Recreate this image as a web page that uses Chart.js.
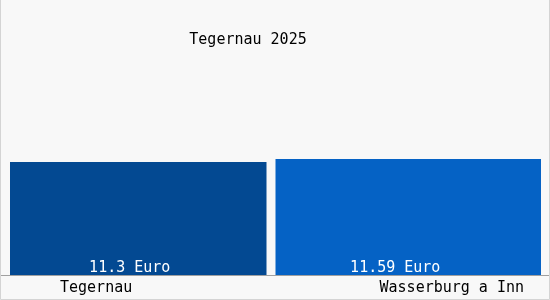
<!DOCTYPE html>
<html>
<head>
<meta charset="utf-8">
<script src="https://cdn.jsdelivr.net/npm/chart.js@4/dist/chart.umd.min.js"></script>
<style>
  html, body { margin: 0; padding: 0; background: #f8f8f8; }
  #wrap { width: 550px; height: 300px; }
</style>
</head>
<body>
<div id="wrap"><canvas id="c" width="550" height="300"></canvas></div>
<script>
const chartTitle = 'Tegernau 2025';
const categories = ['Tegernau', 'Wasserburg a Inn'];
const values = [11.3, 11.59];
const unit = 'Euro';
const barColors = ['#034992', '#0562c5'];

const BG = '#f8f8f8';
const FONT = '15px "DejaVu Sans Mono", "Liberation Mono", monospace';

const overlay = {
  id: 'overlay',
  beforeDraw(chart) {
    const ctx = chart.ctx;
    ctx.save();
    ctx.fillStyle = BG;
    ctx.fillRect(0, 0, chart.width, chart.height);
    ctx.restore();
  },
  afterDraw(chart) {
    const ctx = chart.ctx;
    const area = chart.chartArea;
    const y = chart.scales.y;
    const meta = chart.getDatasetMeta(0);
    ctx.save();
    // baseline across full width
    const by = Math.round(y.getPixelForValue(0)) + 0.5;
    ctx.strokeStyle = '#a0a0a0';
    ctx.lineWidth = 1;
    ctx.beginPath();
    ctx.moveTo(0, by);
    ctx.lineTo(chart.width, by);
    ctx.stroke();
    // outer frame
    ctx.strokeStyle = '#d4d4d4';
    ctx.beginPath();
    ctx.moveTo(0.5, 0);
    ctx.lineTo(0.5, chart.height - 0.5);
    ctx.lineTo(chart.width - 0.5, chart.height - 0.5);
    ctx.lineTo(chart.width - 0.5, 0);
    ctx.stroke();

    ctx.font = FONT;
    ctx.textBaseline = 'middle';
    // title
    ctx.fillStyle = '#000';
    ctx.textAlign = 'center';
    ctx.fillText(chartTitle, area.left + 238, 40);
    // value labels
    ctx.fillStyle = '#ffffff';
    meta.data.forEach((bar, i) => {
      ctx.textAlign = 'center';
      ctx.fillText(values[i] + ' ' + unit, bar.x - 13, by - 7);
    });
    // category labels
    ctx.fillStyle = '#000';
    ctx.textAlign = 'left';
    ctx.fillText(categories[0], area.left + 50, by + 13);
    ctx.textAlign = 'right';
    ctx.fillText(categories[1], area.right - 17, by + 13);
    ctx.restore();
  }
};

new Chart(document.getElementById('c'), {
  type: 'bar',
  data: {
    labels: categories,
    datasets: [{
      data: values,
      backgroundColor: barColors,
      borderColor: BG,
      borderWidth: (c) => c.dataIndex === 0 ? { top: 0, left: 0, bottom: 0, right: 9 } : 0,
      borderSkipped: 'start',
      inflateAmount: 0,
      categoryPercentage: 1,
      barPercentage: 1
    }]
  },
  options: {
    responsive: false,
    animation: false,
    devicePixelRatio: 1,
    layout: { padding: { left: 10, right: 9, top: 75, bottom: 25 } },
    scales: {
      x: { display: false },
      y: { display: false, min: 0, max: 20 }
    },
    plugins: {
      legend: { display: false },
      tooltip: { enabled: false },
      title: { display: false }
    }
  },
  plugins: [overlay]
});
</script>
</body>
</html>
